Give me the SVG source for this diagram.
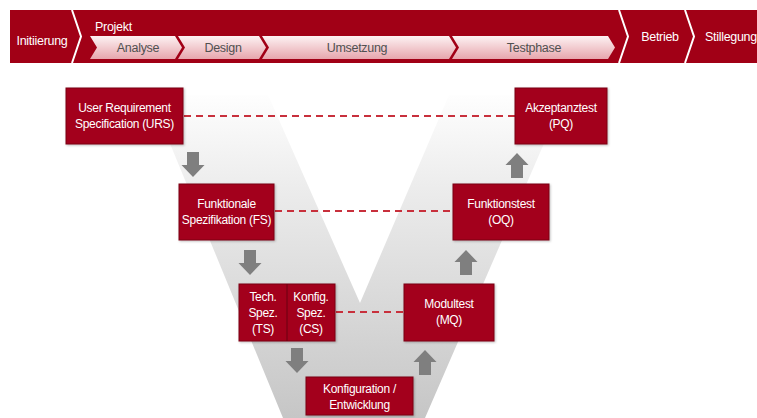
<svg xmlns="http://www.w3.org/2000/svg" width="757" height="418" viewBox="0 0 757 418">
<defs>
<linearGradient id="vg" x1="0" y1="90" x2="0" y2="418" gradientUnits="userSpaceOnUse">
<stop offset="0" stop-color="#ffffff"/>
<stop offset="0.3" stop-color="#ececec"/>
<stop offset="1" stop-color="#c6c6c6"/>
</linearGradient>
<linearGradient id="cg" x1="0" y1="0" x2="0" y2="1">
<stop offset="0" stop-color="#fdf2f3"/>
<stop offset="1" stop-color="#e7a6ad"/>
</linearGradient>
<filter id="sh" x="-10%" y="-10%" width="130%" height="130%">
<feDropShadow dx="1" dy="1" stdDeviation="1" flood-color="#000" flood-opacity="0.25"/>
</filter>
</defs>
<style>
.box{fill:#a3001e;stroke:#7a0014;stroke-width:1;filter:url(#sh)}
.bt{font-family:"Liberation Sans",Arial,sans-serif;font-size:12px;fill:#fff;text-anchor:middle;letter-spacing:-0.3px}
.ht{font-family:"Liberation Sans",Arial,sans-serif;font-size:12.5px;fill:#fff;letter-spacing:-0.3px}
.ct{font-family:"Liberation Sans",Arial,sans-serif;font-size:12.5px;fill:#505050;text-anchor:middle;letter-spacing:-0.3px}
.chev{fill:url(#cg)}
.sep{fill:none;stroke:#fff;stroke-width:2}
.dash{stroke:#c8303c;stroke-width:2;stroke-dasharray:7 5;fill:none}
.arr{fill:#7f7f7f}
</style>
<rect width="757" height="418" fill="#fff"/>
<polygon points="150,95 268,95 360,303 449,95 565,95 425,418 283,418" fill="url(#vg)"/>

<g id="phasebar">
<rect x="10" y="10" width="747" height="53" fill="#a10016"/>
<polyline class="sep" points="72,10 81,36.5 72,63"/>
<polyline class="sep" points="619,10 628,36.5 619,63"/>
<polyline class="sep" points="685,10 694,36.5 685,63"/>
<path class="chev" d="M90,36 H175 L182,47.5 L175,59 H90 L97,47.5 Z"/>
<path class="chev" d="M178,36 H259 L266,47.5 L259,59 H178 L185,47.5 Z"/>
<path class="chev" d="M262,36 H449 L456,47.5 L449,59 H262 L269,47.5 Z"/>
<path class="chev" d="M452,36 H608 L615,47.5 L608,59 H452 L459,47.5 Z"/>
<text class="ht" x="42" y="45" text-anchor="middle">Initiierung</text>
<text class="ht" x="95" y="31">Projekt</text>
<text class="ct" x="138" y="52">Analyse</text>
<text class="ct" x="223" y="52">Design</text>
<text class="ct" x="357" y="52">Umsetzung</text>
<text class="ct" x="534" y="52">Testphase</text>
<text class="ht" x="660" y="41" text-anchor="middle">Betrieb</text>
<text class="ht" x="705" y="41">Stillegung</text>
</g>

<g id="connectors">
<line class="dash" x1="184" y1="116" x2="515" y2="116"/>
<line class="dash" x1="275" y1="211" x2="453" y2="211"/>
<line class="dash" x1="336" y1="312" x2="404" y2="312"/>
<path class="arr" d="M187,152 h12 v13 h5.5 l-11.5,12 l-11.5,-12 h5.5 z"/>
<path class="arr" d="M244,250 h12 v13 h5.5 l-11.5,12 l-11.5,-12 h5.5 z"/>
<path class="arr" d="M291,348 h12 v13 h5.5 l-11.5,12 l-11.5,-12 h5.5 z"/>
<path class="arr" d="M419,375 h12 v-13 h5.5 l-11.5,-12 l-11.5,12 h5.5 z"/>
<path class="arr" d="M460,275 h12 v-13 h5.5 l-11.5,-12 l-11.5,12 h5.5 z"/>
<path class="arr" d="M511,178 h12 v-13 h5.5 l-11.5,-12 l-11.5,12 h5.5 z"/>
</g>

<g id="urs">
<rect class="box" x="66" y="88" width="117" height="56"/>
<text class="bt" x="124.5" y="112">User Requirement</text>
<text class="bt" x="124.5" y="128">Specification (URS)</text>
</g>
<g id="fs">
<rect class="box" x="179" y="184" width="95" height="56"/>
<text class="bt" x="226.5" y="208">Funktionale</text>
<text class="bt" x="226.5" y="224">Spezifikation (FS)</text>
</g>
<g id="ts-cs">
<rect class="box" x="239" y="284" width="96" height="57"/>
<line x1="287" y1="284" x2="287" y2="341" stroke="#6a0010" stroke-width="1"/>
<text class="bt" x="263" y="301">Tech.</text>
<text class="bt" x="263" y="317">Spez.</text>
<text class="bt" x="263" y="333">(TS)</text>
<text class="bt" x="311" y="301">Konfig.</text>
<text class="bt" x="311" y="317">Spez.</text>
<text class="bt" x="311" y="333">(CS)</text>
</g>
<g id="konfig">
<rect class="box" x="306" y="377" width="107" height="38"/>
<text class="bt" x="359.5" y="393">Konfiguration /</text>
<text class="bt" x="359.5" y="409">Entwicklung</text>
</g>
<g id="mq">
<rect class="box" x="404" y="284" width="90" height="57"/>
<text class="bt" x="449" y="308">Modultest</text>
<text class="bt" x="449" y="324">(MQ)</text>
</g>
<g id="oq">
<rect class="box" x="453" y="184" width="96" height="56"/>
<text class="bt" x="501" y="208">Funktionstest</text>
<text class="bt" x="501" y="224">(OQ)</text>
</g>
<g id="pq">
<rect class="box" x="515" y="88" width="92" height="56"/>
<text class="bt" x="561" y="112">Akzeptanztest</text>
<text class="bt" x="561" y="128">(PQ)</text>
</g>
</svg>
